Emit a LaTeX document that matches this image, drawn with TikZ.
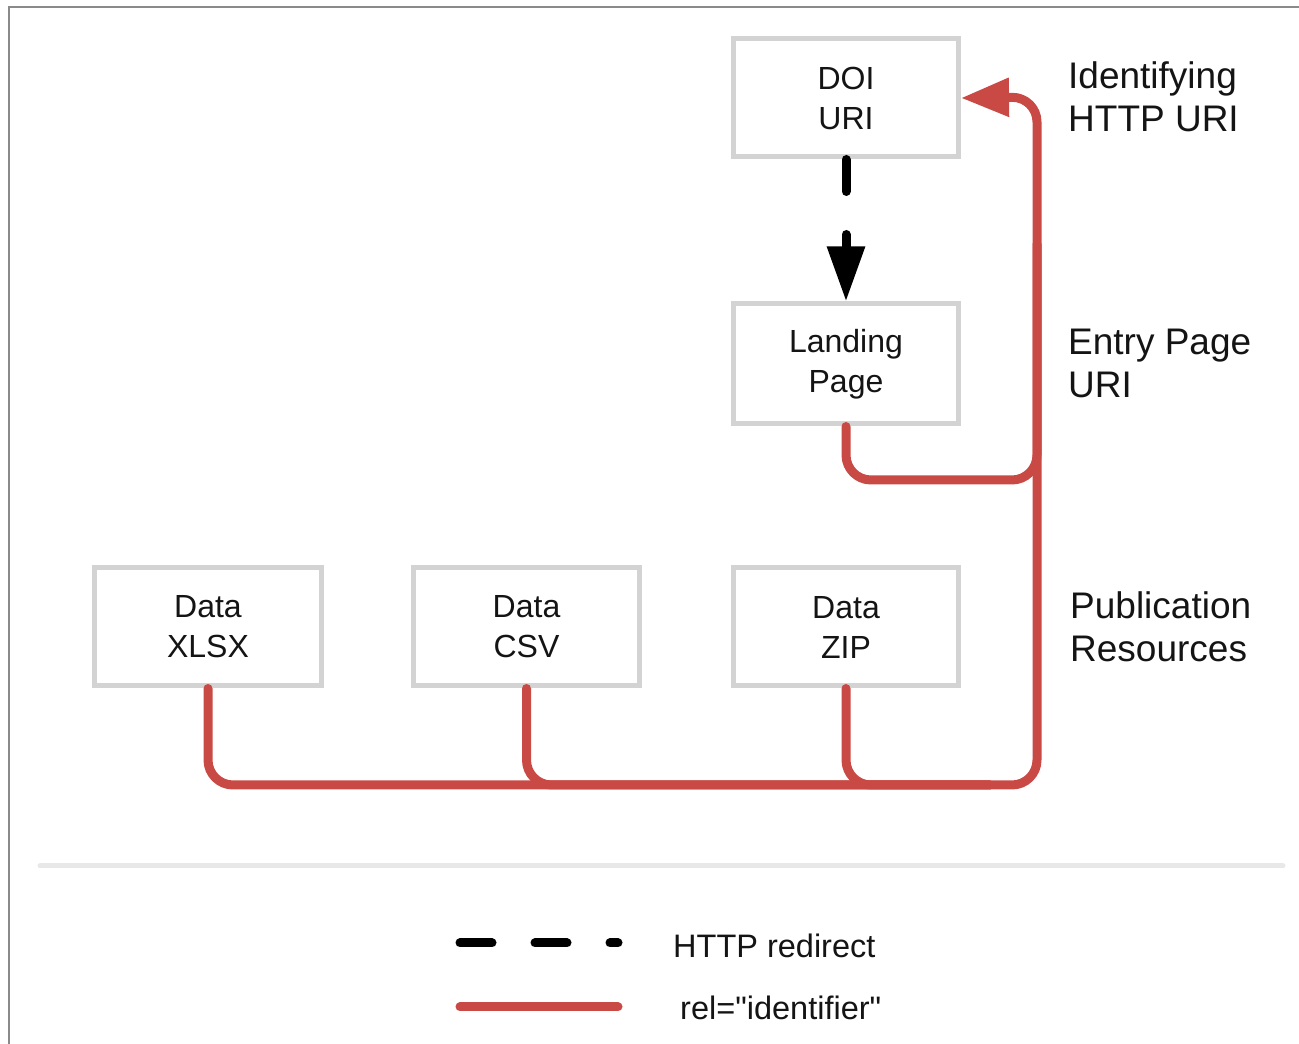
\documentclass[tikz,border=0pt]{standalone}
\usepackage{fontspec}
\setmainfont{Liberation Sans}
% same face without TeX quote ligatures, for straight quotes
\newfontfamily\plainquotes{Liberation Sans}
\usetikzlibrary{arrows.meta}

\definecolor{boxgray}{RGB}{211,211,211}
\definecolor{relred}{RGB}{201,74,69}
\definecolor{framegray}{RGB}{138,138,138}
\definecolor{sepgray}{RGB}{232,232,232}
\definecolor{ink}{RGB}{20,20,20}

\tikzset{
  resbox/.style={draw=boxgray, line width=5pt, fill=white,
    minimum width=225pt, minimum height=118pt, align=center,
    text=ink, font=\fontsize{32}{40}\selectfont},
  sidelabel/.style={anchor=west, align=left, text=ink, inner sep=0pt,
    font=\fontsize{37}{43}\selectfont},
  legendlabel/.style={anchor=west, text=ink, inner sep=0pt,
    font=\fontsize{32.5}{38}\selectfont},
  redirect/.style={draw=black, line width=9pt, line cap=round,
    dash pattern=on 32pt off 43pt},
  identifier/.style={draw=relred, line width=9pt, line cap=round,
    line join=round},
}

\begin{document}
\begin{tikzpicture}[x=1pt, y=1pt]
  \useasboundingbox (0,0) rectangle (1299,1044);

  % frame edges
  \draw[framegray, line width=2.5pt] (9,0) -- (9,1037) -- (1299,1037);

  % resource boxes
  \node[resbox] (doi)     at (846,946)   {DOI\\URI};
  \node[resbox, minimum height=120pt] (landing) at (846,680) {Landing\\Page};
  \node[resbox, minimum width=227pt] (xlsx) at (208,417)   {Data\\XLSX};
  \node[resbox, minimum width=226pt] (csv)  at (526.5,417) {Data\\CSV};
  \node[resbox] (zip)     at (846,417) {Data\\ZIP};

  % side labels
  \node[sidelabel] (lblId)    at (1068,947) {Identifying\\HTTP URI};
  \node[sidelabel] (lblEntry) at (1068,681) {Entry Page\\URI};
  \node[sidelabel] (lblPub)   at (1070,417) {Publication\\Resources};

  % trunk of the identifier links
  \coordinate (busMid)   at (990,259);
  \coordinate (busR)     at (1037,259);
  \coordinate (landJoin) at (1037,564);
  \coordinate (trunkMid) at (1037,800);
  \coordinate (riseTop)  at (1037,947);

  % HTTP redirect
  \draw[redirect, -{Triangle[length=55pt,width=36pt]}] (doi.south) -- (landing.north);

  % rel="identifier" links
  \draw[identifier, rounded corners=25pt] (csv.south) |- (busMid);
  \draw[identifier, rounded corners=25pt] (zip.south) |- (busMid);
  \draw[identifier, rounded corners=25pt] (landing.south) |- (landJoin) -- (trunkMid);
  \draw[identifier, rounded corners=25pt, -{Triangle[length=48pt,width=37pt]}]
    (xlsx.south) |- (busR) -- (riseTop) [rounded corners=12pt] -- (doi.east);

  % separator
  \draw[sepgray, line width=5pt, line cap=round] (40,178) -- (1283,178);

  % legend
  \coordinate (legDashA) at (460,101);
  \coordinate (legDashB) at (618,101);
  \coordinate (legRedA)  at (460,37);
  \coordinate (legRedB)  at (618,37);
  \draw[redirect] (legDashA) -- (legDashB);
  \draw[identifier] (legRedA) -- (legRedB);
  \node[legendlabel] (legText1) at (673,98) {HTTP redirect};
  \node[legendlabel] (legText2) at (680,36) {\plainquotes rel="identifier"};
\end{tikzpicture}
\end{document}
